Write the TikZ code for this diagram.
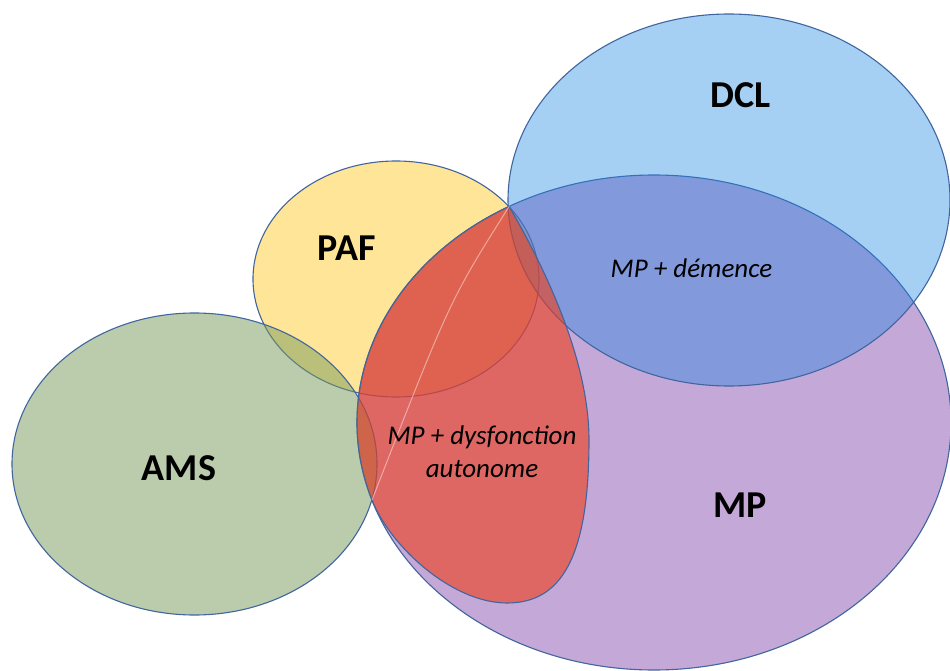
\documentclass[tikz,border=0pt]{standalone}
\usepackage{fontspec}
\setmainfont{Carlito}
\definecolor{outlineblue}{RGB}{65,101,159}
\definecolor{mpbase}{RGB}{139,83,179}
\definecolor{dclbase}{RGB}{32,135,227}
\definecolor{pafbase}{RGB}{255,205,51}
\definecolor{amsbase}{RGB}{119,155,91}
\definecolor{redbase}{RGB}{240,60,22}
\begin{document}
\begin{tikzpicture}[x=1pt,y=-1pt,
  outl/.style={draw=outlineblue, line width=1.1pt, line join=round},
  biglabel/.style={font=\fontsize{38}{42}\selectfont\bfseries, inner sep=0pt, anchor=base},
  itlabel/.style={font=\fontsize{27}{33}\selectfont\itshape, inner sep=0pt, align=center}]
\useasboundingbox (0,0) rectangle (950,671);
\fill[white] (0,0) rectangle (950,671);
% key points
\coordinate (tip) at (509.1,206.5);
\coordinate (amsmp) at (372,500);
% sets
\path[outl, fill=pafbase, fill opacity=0.5] (396,279) ellipse [x radius=143, y radius=118];
\path[outl, fill=mpbase, fill opacity=0.5] (654,422.5) ellipse [x radius=297, y radius=247.5];
\path[outl, fill=dclbase, fill opacity=0.4] (729,200) ellipse [x radius=221, y radius=186];
\path[outl, fill=amsbase, fill opacity=0.5] (194.5,464) ellipse [x radius=182.5, y radius=151];
% MP + dysfonction autonome region
\path[outl, fill=redbase, fill opacity=0.6] (tip)
  arc[start angle=240.8, end angle=161.75, x radius=297, y radius=247.5]
  .. controls (390.4,546.5) and (452,603) .. (507,603)
  .. controls (560,603) and (589,560) .. (589,440)
  .. controls (589,360) and (545,268) .. (tip) -- cycle;
% faint line
\draw[white, draw opacity=0.45, line width=1pt] (tip) .. controls (450,300) .. (amsmp);
% labels
\node[biglabel] (dcl) at (740.5,108) {DCL};
\node[biglabel] (paf) at (346.5,260) {PAF};
\node[biglabel] (ams) at (179,480) {AMS};
\node[biglabel] (mp) at (740,517) {MP};
\node[itlabel, anchor=base] (dem) at (691.5,277) {MP + démence};
\node[itlabel] (dys) at (482,452) {MP + dysfonction\\autonome};
\end{tikzpicture}
\end{document}
